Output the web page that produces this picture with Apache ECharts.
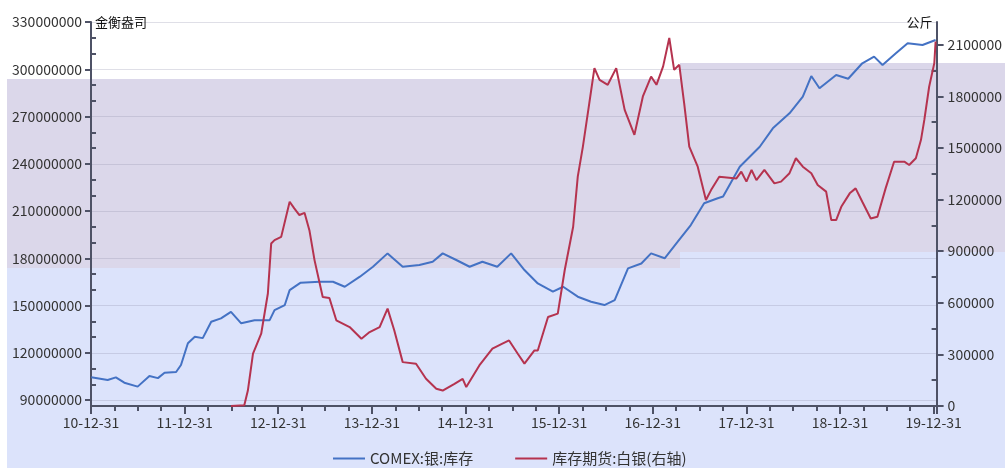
<!DOCTYPE html>
<html>
<head>
<meta charset="utf-8">
<script src="https://cdn.jsdelivr.net/npm/echarts@6/dist/echarts.min.js"></script>
<style>
  html, body { margin: 0; padding: 0; background: #fff; }
  #chart { width: 1005px; height: 468px; }
</style>
</head>
<body>
<div id="chart"></div>
<script>
// COMEX silver stocks (troy oz)
const comexDates = [
  '2011-01-01','2011-03-06','2011-04-07','2011-05-10','2011-07-01','2011-08-16','2011-09-18','2011-10-14',
  '2011-11-28','2011-12-17','2012-01-13','2012-02-09','2012-03-11','2012-04-13','2012-05-21','2012-06-29',
  '2012-08-08','2012-09-29','2012-11-27','2012-12-16','2013-01-25','2013-02-13','2013-03-28','2013-06-10',
  '2013-08-01','2013-09-16','2013-11-14','2014-01-04','2014-03-02','2014-04-30','2014-07-04','2014-08-25',
  '2014-10-03','2014-11-25','2015-01-16','2015-03-07','2015-05-04','2015-06-27','2015-08-18','2015-10-09',
  '2015-12-07','2016-01-16','2016-03-13','2016-05-04','2016-06-25','2016-08-04','2016-09-25','2016-11-16',
  '2016-12-24','2017-02-15','2017-04-07','2017-05-28','2017-07-19','2017-09-10','2017-10-01','2017-12-05',
  '2018-02-21','2018-04-13','2018-06-17','2018-08-08','2018-09-10','2018-10-12','2018-12-16','2019-02-01',
  '2019-03-28','2019-05-13','2019-06-15','2019-08-06','2019-09-21','2019-11-18','2020-01-08'
];
const comexStock = [
  104.4,102.7,104.4,101.0,98.5,105.2,103.9,107.3,
  107.8,112.2,126.0,130.2,129.3,139.7,141.8,146.0,
  138.7,140.7,140.7,147.1,150.3,159.8,164.5,165.1,
  165.1,161.9,168.3,174.6,183.1,174.6,175.7,177.8,
  183.1,178.9,174.6,177.8,174.6,183.1,172.5,164.0,
  158.8,161.9,155.6,152.4,150.3,153.4,173.6,176.7,
  183.1,180.0,190.5,201.1,214.9,218.1,219.2,238.1,
  250.8,262.5,272.0,282.6,295.7,287.9,296.3,294.0,
  303.8,308.0,302.7,310.1,316.5,315.4,318.6
].map(v => v * 1e6);

// SHFE silver warehouse stocks (kg)
const shfeDates = [
  '2012-06-29','2012-08-20','2012-09-03','2012-09-23','2012-10-25','2012-11-20','2012-12-03','2012-12-16',
  '2013-01-11','2013-02-13','2013-03-03','2013-03-23','2013-04-12','2013-05-01','2013-05-21','2013-06-22',
  '2013-07-18','2013-08-14','2013-10-05','2013-11-20','2013-12-22','2014-01-30','2014-03-02','2014-03-28',
  '2014-04-30','2014-06-21','2014-07-30','2014-09-08','2014-10-03','2014-11-18','2014-12-20','2015-01-03',
  '2015-02-23','2015-04-15','2015-05-24','2015-06-19','2015-07-23','2015-08-18','2015-09-26','2015-10-09',
  '2015-11-18','2015-12-26','2016-01-22','2016-02-24','2016-03-13','2016-04-02','2016-04-27','2016-05-17',
  '2016-06-06','2016-07-08','2016-08-10','2016-09-12','2016-10-20','2016-11-22','2016-12-24','2017-01-14',
  '2017-02-09','2017-03-05','2017-03-24','2017-04-13','2017-05-02','2017-05-22','2017-06-24','2017-07-26',
  '2017-08-15','2017-09-16','2017-11-22','2017-12-11','2017-12-31','2018-01-20','2018-02-08','2018-03-11',
  '2018-04-19','2018-05-15','2018-06-17','2018-07-12','2018-08-08','2018-09-10','2018-10-05','2018-11-07',
  '2018-11-27','2018-12-16','2019-01-05','2019-02-07','2019-03-02','2019-03-28','2019-04-30','2019-05-26',
  '2019-06-27','2019-07-30','2019-09-08','2019-09-27','2019-10-23','2019-11-12','2019-11-25','2019-12-14',
  '2020-01-03','2020-01-08'
];
const shfeStock = [
  0,5,90,304,420,654,945,964,
  983,1187,1149,1110,1123,1022,848,634,
  628,498,459,391,430,459,566,440,
  255,246,158,100,90,129,158,110,
  236,333,362,381,304,246,323,323,
  517,537,789,1042,1333,1508,1760,1964,
  1896,1867,1964,1721,1576,1799,1915,1867,
  1974,2139,1954,1983,1760,1508,1391,1197,
  1255,1333,1323,1362,1304,1372,1313,1372,
  1294,1304,1353,1440,1391,1353,1285,1246,
  1081,1081,1158,1236,1265,1187,1090,1100,
  1265,1420,1420,1401,1440,1547,1663,1857,
  1993,2119
].map(v => v * 1000);

const yearLabels = ['10-12-31','11-12-31','12-12-31','13-12-31','14-12-31','15-12-31','16-12-31','17-12-31','18-12-31','19-12-31'];
const leftTicks = [90e6,120e6,150e6,180e6,210e6,240e6,270e6,300e6,330e6];
const leftMinor = [100e6,110e6,130e6,140e6,160e6,170e6,190e6,200e6,220e6,230e6,250e6,260e6,280e6,290e6,310e6,320e6];
const rightTicks = [0,300000,600000,900000,1200000,1500000,1800000,2100000];
const rightMinor = [150000,450000,750000,1050000,1350000,1650000,1950000];

const seriesNames = ['COMEX:银:库存', '库存期货:白银(右轴)'];
const colors = ['#4472c4', '#b5334f'];

// years elapsed since 2010-12-31
const t0 = Date.parse('2010-12-31');
const toYears = d => (Date.parse(d) - t0) / (365.25 * 86400000);

const axisColor = '#4e5266';
const font = 'Noto Sans CJK SC';
const lbl = { color: '#333', fontSize: 14, fontFamily: font };
const plain = v => String(Math.round(v));

const chart = echarts.init(document.getElementById('chart'));
chart.setOption({
  animation: false,
  backgroundColor: '#fff',
  // odd two-tone backdrop in the screenshot
  graphic: [
    { type: 'rect', z: -10, shape: { x: 7, y: 79, width: 673, height: 189 }, style: { fill: '#dbd7ea' } },
    { type: 'rect', z: -10, shape: { x: 7, y: 268, width: 673, height: 200 }, style: { fill: '#dce3fb' } },
    { type: 'rect', z: -10, shape: { x: 680, y: 63, width: 325, height: 189 }, style: { fill: '#dbd7ea' } },
    { type: 'rect', z: -10, shape: { x: 680, y: 252, width: 325, height: 216 }, style: { fill: '#dce3fb' } }
  ],
  grid: { left: 91, right: 67, top: 22, bottom: 62 },
  legend: {
    left: 328, top: 446,
    icon: 'rect', itemWidth: 32, itemHeight: 2, itemGap: 42,
    textStyle: { color: '#333', fontSize: 15, fontFamily: font },
    data: seriesNames
  },
  xAxis: {
    type: 'value', min: 0, max: 9.032, interval: 1,
    axisLine: { onZero: false, lineStyle: { color: axisColor, width: 2 } },
    axisTick: { length: 8, lineStyle: { color: axisColor, width: 2 } },
    minorTick: { show: true, splitNumber: 4, length: 5, lineStyle: { color: axisColor, width: 2 } },
    splitLine: { show: false },
    axisLabel: Object.assign({}, lbl, {
      margin: 10,
      customValues: yearLabels.map((_, i) => i),
      formatter: v => yearLabels[Math.round(v)] || ''
    })
  },
  yAxis: [
    {
      type: 'value', position: 'left', min: 86.2e6, max: 330e6, splitNumber: 8,
      name: '金衡盎司', nameLocation: 'end', nameGap: 0,
      nameTextStyle: { color: '#111', fontSize: 13, fontFamily: font, align: 'left', verticalAlign: 'middle', padding: [0, 0, 0, 4] },
      axisLine: { show: true, lineStyle: { color: axisColor, width: 2 } },
      axisTick: { show: true, length: 6, customValues: leftTicks, lineStyle: { color: axisColor, width: 2 } },
      axisLabel: Object.assign({}, lbl, { margin: 9, customValues: leftTicks, formatter: plain }),
      splitLine: { show: true, lineStyle: { color: 'rgba(150,150,175,0.3)', width: 1 } }
    },
    {
      type: 'value', position: 'right', min: 0, max: 2232000, splitNumber: 7,
      name: '公斤', nameLocation: 'end', nameGap: 0,
      nameTextStyle: { color: '#111', fontSize: 13, fontFamily: font, align: 'right', verticalAlign: 'middle', padding: [0, 4, 0, 0] },
      axisLine: { show: true, lineStyle: { color: axisColor, width: 2 } },
      axisTick: { show: true, length: 7, customValues: rightTicks, lineStyle: { color: axisColor, width: 2 } },
      axisLabel: Object.assign({}, lbl, { margin: 11, customValues: rightTicks, formatter: plain }),
      splitLine: { show: false }
    },
    {
      // inward minor ticks for the left axis
      type: 'value', position: 'left', min: 86.2e6, max: 330e6,
      axisLine: { show: false }, axisLabel: { show: false }, splitLine: { show: false },
      axisTick: { show: true, inside: true, length: 5, customValues: leftMinor, lineStyle: { color: axisColor, width: 2 } }
    },
    {
      // inward minor ticks for the right axis
      type: 'value', position: 'right', min: 0, max: 2232000,
      axisLine: { show: false }, axisLabel: { show: false }, splitLine: { show: false },
      axisTick: { show: true, inside: true, length: 5, customValues: rightMinor, lineStyle: { color: axisColor, width: 2 } }
    }
  ],
  series: [
    {
      name: seriesNames[0], type: 'line', yAxisIndex: 0,
      showSymbol: false, symbol: 'none',
      lineStyle: { color: colors[0], width: 2 }, itemStyle: { color: colors[0] },
      data: comexDates.map((d, i) => [toYears(d), comexStock[i]])
    },
    {
      name: seriesNames[1], type: 'line', yAxisIndex: 1,
      showSymbol: false, symbol: 'none',
      lineStyle: { color: colors[1], width: 2 }, itemStyle: { color: colors[1] },
      data: shfeDates.map((d, i) => [toYears(d), shfeStock[i]])
    }
  ]
});
</script>
</body>
</html>
